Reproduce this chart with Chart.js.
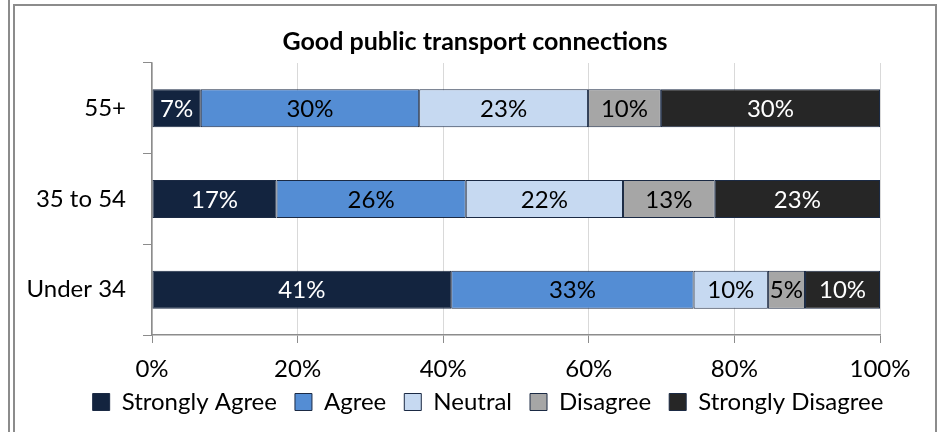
<!DOCTYPE html>
<html>
<head>
<meta charset="utf-8">
<script src="https://cdn.jsdelivr.net/npm/chart.js@4"></script>
<style>
  body { margin: 0; background: #fff; }
  .wrap { position: relative; width: 938px; height: 432px; overflow: hidden; }
  .edge { position: absolute; left: 8px; top: 0; width: 2px; height: 432px; background: #8c8c8c; }
  .frame { position: absolute; left: 13px; top: 4px; width: 920px; height: 440px;
           border: 2px solid #8c8c8c; border-bottom: none; }
  canvas { position: absolute; left: 0; top: 0; }
</style>
</head>
<body>
<div class="wrap">
  <div class="edge"></div>
  <div class="frame"></div>
  <canvas id="chart" width="938" height="432"></canvas>
</div>
<script>
const categories = ["55+", "35 to 54", "Under 34"];
const seriesNames = ["Strongly Agree", "Agree", "Neutral", "Disagree", "Strongly Disagree"];
const stronglyAgree = [6.7, 17.1, 41.1];
const agree = [30.0, 26.0, 33.3];
const neutral = [23.2, 21.6, 10.2];
const disagree = [10.0, 12.6, 5.1];
const stronglyDisagree = [30.1, 22.7, 10.3];
const xTicks = [0, 20, 40, 60, 80, 100];

const fills = ["#13243f", "#548dd4", "#c6d9f1", "#a6a6a6", "#262626"];
const labelColors = ["#fff", "#000", "#000", "#000", "#fff"];
const fontFamily = "Lato, 'Open Sans', sans-serif";

// draws the rounded % inside every segment
const segmentLabels = {
    id: "segmentLabels",
    afterDatasetsDraw(chart) {
        const ctx = chart.ctx;
        ctx.save();
        ctx.font = "24px " + fontFamily;
        ctx.textAlign = "center";
        ctx.textBaseline = "middle";
        chart.data.datasets.forEach((ds, i) => {
            const meta = chart.getDatasetMeta(i);
            meta.data.forEach((bar, j) => {
                const cx = (bar.x + bar.base) / 2;
                ctx.fillStyle = labelColors[i];
                ctx.fillText(Math.round(ds.data[j]) + "%", cx, bar.y + 1);
            });
        });
        ctx.restore();
    }
};

// title and legend sit off-centre in the original, nudge them after layout
const nudgeBlocks = {
    id: "nudgeBlocks",
    afterLayout(chart) {
        const t = chart.titleBlock;
        if (t) { t.left += 35; t.right += 35; }
        const l = chart.legend;
        if (l) { l.left += 48; l.right += 48; l.top -= 8; l.bottom -= 8; }
    }
};

const allSeries = [stronglyAgree, agree, neutral, disagree, stronglyDisagree];

new Chart(document.getElementById("chart").getContext("2d"), {
    type: "bar",
    data: {
        labels: categories,
        datasets: allSeries.map((vals, i) => ({
            label: seriesNames[i],
            data: vals,
            backgroundColor: fills[i],
            borderColor: "#1b2a44",
            borderWidth: 1,
            borderSkipped: false,
            barPercentage: 0.42,
            categoryPercentage: 1
        }))
    },
    options: {
        indexAxis: "y",
        responsive: false,
        animation: false,
        devicePixelRatio: 1,
        layout: { padding: { top: 0, left: 0, right: 58, bottom: 0 } },
        scales: {
            x: {
                stacked: true,
                min: 0,
                max: 100,
                afterBuildTicks: (scale) => { scale.ticks = xTicks.map(v => ({ value: v })); },
                afterFit: (scale) => { scale.height = 45; },
                ticks: {
                    callback: (v) => v + "%",
                    font: { size: 24, family: fontFamily },
                    color: "#000",
                    padding: 12
                },
                grid: { color: "#d9d9d9", tickColor: "#8c8c8c", tickLength: 8, lineWidth: 1 },
                border: { color: "#8c8c8c", width: 1.5 }
            },
            y: {
                stacked: true,
                afterFit: (scale) => { scale.width = 152; },
                ticks: {
                    font: { size: 24, family: fontFamily },
                    color: "#000",
                    padding: 17
                },
                grid: { offset: true, drawOnChartArea: false, color: "#8c8c8c", tickLength: 9 },
                border: { color: "#8c8c8c", width: 1.5 }
            }
        },
        plugins: {
            title: {
                display: true,
                text: "Good public transport connections",
                font: { size: 25, weight: "bold", family: fontFamily },
                color: "#000",
                padding: { top: 27, bottom: 6 }
            },
            legend: {
                position: "bottom",
                labels: {
                    boxWidth: 17,
                    boxHeight: 17,
                    padding: 18,
                    color: "#000",
                    font: { size: 24, family: fontFamily }
                }
            },
            tooltip: { enabled: false }
        }
    },
    plugins: [segmentLabels, nudgeBlocks]
});
</script>
</body>
</html>
